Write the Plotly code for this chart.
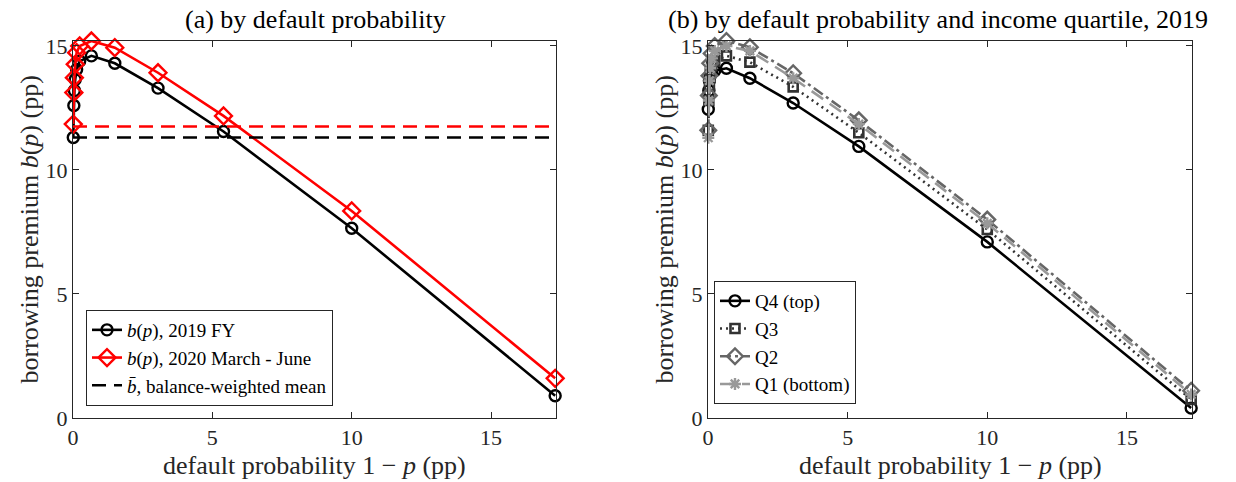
import plotly.graph_objects as go

# ---------------- data ----------------
x_pd = [0.01, 0.03, 0.05, 0.08, 0.13, 0.24, 0.66, 1.5, 3.05, 5.4, 10.0, 17.3]

b_2019 = [11.31, 12.6, 13.2, 13.65, 14.05, 14.39, 14.6, 14.3, 13.3, 11.55, 7.65, 0.9]
b_2020 = [11.85, 13.12, 13.72, 14.26, 14.73, 15.0, 15.2, 14.93, 13.92, 12.18, 8.35, 1.6]
mean_2019 = 11.31
mean_2020 = 11.75
mean_x = [0.0, 17.3]

q4 = [12.45, 13.2, 13.6, 13.8, 13.95, 14.0, 14.1, 13.7, 12.7, 10.95, 7.1, 0.4]
q3 = [11.6, 12.8, 13.4, 13.9, 14.2, 14.4, 14.6, 14.35, 13.35, 11.5, 7.6, 0.75]
q2 = [11.6, 13.0, 13.8, 14.3, 14.7, 15.0, 15.2, 14.95, 13.9, 12.0, 8.0, 1.1]
q1 = [11.3, 12.8, 13.6, 14.1, 14.5, 14.8, 15.0, 14.8, 13.7, 11.85, 7.85, 0.95]

tick_vals = [0, 5, 10, 15]
x_range = [0, 17.33]
y_range = [0, 15.2]

FONT = "Liberation Serif"
W, H = 1236, 482
ML, MR, MT, MB = 73, 44, 41, 64
PW = W - ML - MR
PH = H - MT - MB

def px_x(p):
    return (p - ML) / PW

def px_y(p):
    return (H - MB - p) / PH

fig = go.Figure()

# ---------------- panel (a) ----------------
fig.add_trace(go.Scatter(
    x=x_pd, y=b_2019, mode="lines+markers", name="<i>b</i>(<i>p</i>), 2019 FY",
    line=dict(color="black", width=2.6),
    marker=dict(symbol="circle-open", size=11, color="black", line=dict(width=2.4)),
    xaxis="x", yaxis="y", legend="legend", cliponaxis=False))
fig.add_trace(go.Scatter(
    x=x_pd, y=b_2020, mode="lines+markers", name="<i>b</i>(<i>p</i>), 2020 March - June",
    line=dict(color="#ff0000", width=2.6),
    marker=dict(symbol="diamond-open", size=13, color="#ff0000", line=dict(width=2.4)),
    xaxis="x", yaxis="y", legend="legend", cliponaxis=False))
fig.add_trace(go.Scatter(
    x=mean_x, y=[mean_2019, mean_2019], mode="lines", name="<i>b̄</i>, balance-weighted mean",
    line=dict(color="black", width=2.6, dash="14px,8px"),
    xaxis="x", yaxis="y", legend="legend"))
fig.add_trace(go.Scatter(
    x=mean_x, y=[mean_2020, mean_2020], mode="lines", showlegend=False,
    line=dict(color="#ff0000", width=2.6, dash="14px,8px"),
    xaxis="x", yaxis="y"))

# ---------------- panel (b) ----------------
fig.add_trace(go.Scatter(
    x=x_pd, y=q4, mode="lines+markers", name="Q4 (top)",
    line=dict(color="black", width=2.6),
    marker=dict(symbol="circle-open", size=11, color="black", line=dict(width=2.4)),
    xaxis="x2", yaxis="y2", legend="legend2", cliponaxis=False))
fig.add_trace(go.Scatter(
    x=x_pd, y=q3, mode="lines+markers", name="Q3",
    line=dict(color="#333333", width=2.6, dash="2px,4px"),
    marker=dict(symbol="square-open", size=9, color="#333333", line=dict(width=2.6)),
    xaxis="x2", yaxis="y2", legend="legend2", cliponaxis=False))
fig.add_trace(go.Scatter(
    x=x_pd, y=q2, mode="lines+markers", name="Q2",
    line=dict(color="#666666", width=2.6, dash="11px,4px,3px,4px"),
    marker=dict(symbol="diamond-open", size=12, color="#666666", line=dict(width=2.4)),
    xaxis="x2", yaxis="y2", legend="legend2", cliponaxis=False))
fig.add_trace(go.Scatter(
    x=x_pd, y=q1, mode="lines+markers", name="Q1 (bottom)",
    line=dict(color="#999999", width=2.6, dash="14px,8px"),
    marker=dict(symbol="asterisk-open", size=10, color="#999999", line=dict(width=2.4, color="#999999")),
    xaxis="x2", yaxis="y2", legend="legend2", cliponaxis=False))

axis_common = dict(
    range=x_range, tickvals=tick_vals, ticks="inside", ticklen=6, tickcolor="#262626",
    showline=True, linecolor="#262626", linewidth=1, mirror="ticks", showgrid=False,
    zeroline=False, tickfont=dict(family=FONT, size=22, color="#262626"),
)
yaxis_common = dict(axis_common)
yaxis_common["range"] = y_range

left_dom = [0, px_x(556)]
right_dom = [px_x(708), 1]

legend_common = dict(
    bgcolor="white", bordercolor="#262626", borderwidth=1,
    font=dict(family=FONT, size=19, color="black"),
    xanchor="left", yanchor="bottom", tracegroupgap=0,
)

LABEL_FONT = dict(family=FONT, size=26, color="#262626")
TITLE_FONT = dict(family=FONT, size=26, color="black")

def ann(text, xpx, ypx, font, angle=0):
    return dict(text=text, x=px_x(xpx), y=px_y(ypx), xref="paper", yref="paper",
                showarrow=False, xanchor="center", yanchor="middle", textangle=angle, font=font)

xlab = "default probability 1 − <i>p</i> (pp)"
ylab = "borrowing premium <i>b</i>(<i>p</i>) (pp)"
ymid = (MT + H - MB) / 2

fig.update_layout(
    width=W, height=H,
    margin=dict(l=ML, r=MR, t=MT, b=MB),
    paper_bgcolor="white", plot_bgcolor="white",
    xaxis=dict(axis_common, domain=left_dom, anchor="y"),
    yaxis=dict(yaxis_common, domain=[0, 1], anchor="x"),
    xaxis2=dict(axis_common, domain=right_dom, anchor="y2"),
    yaxis2=dict(yaxis_common, domain=[0, 1], anchor="x2"),
    legend=dict(legend_common, x=px_x(86), y=px_y(406)),
    legend2=dict(legend_common, x=px_x(714), y=px_y(404)),
    annotations=[
        ann("(a) by default probability", 315, 20, TITLE_FONT),
        ann("(b) by default probability and income quartile, 2019", 938, 20, TITLE_FONT),
        ann(xlab, 314.5, 465, LABEL_FONT),
        ann(xlab, 950, 465, LABEL_FONT),
        ann(ylab, 29, ymid, LABEL_FONT, -90),
        ann(ylab, 664, ymid, LABEL_FONT, -90),
    ],
)

fig.write_html("out.html")
